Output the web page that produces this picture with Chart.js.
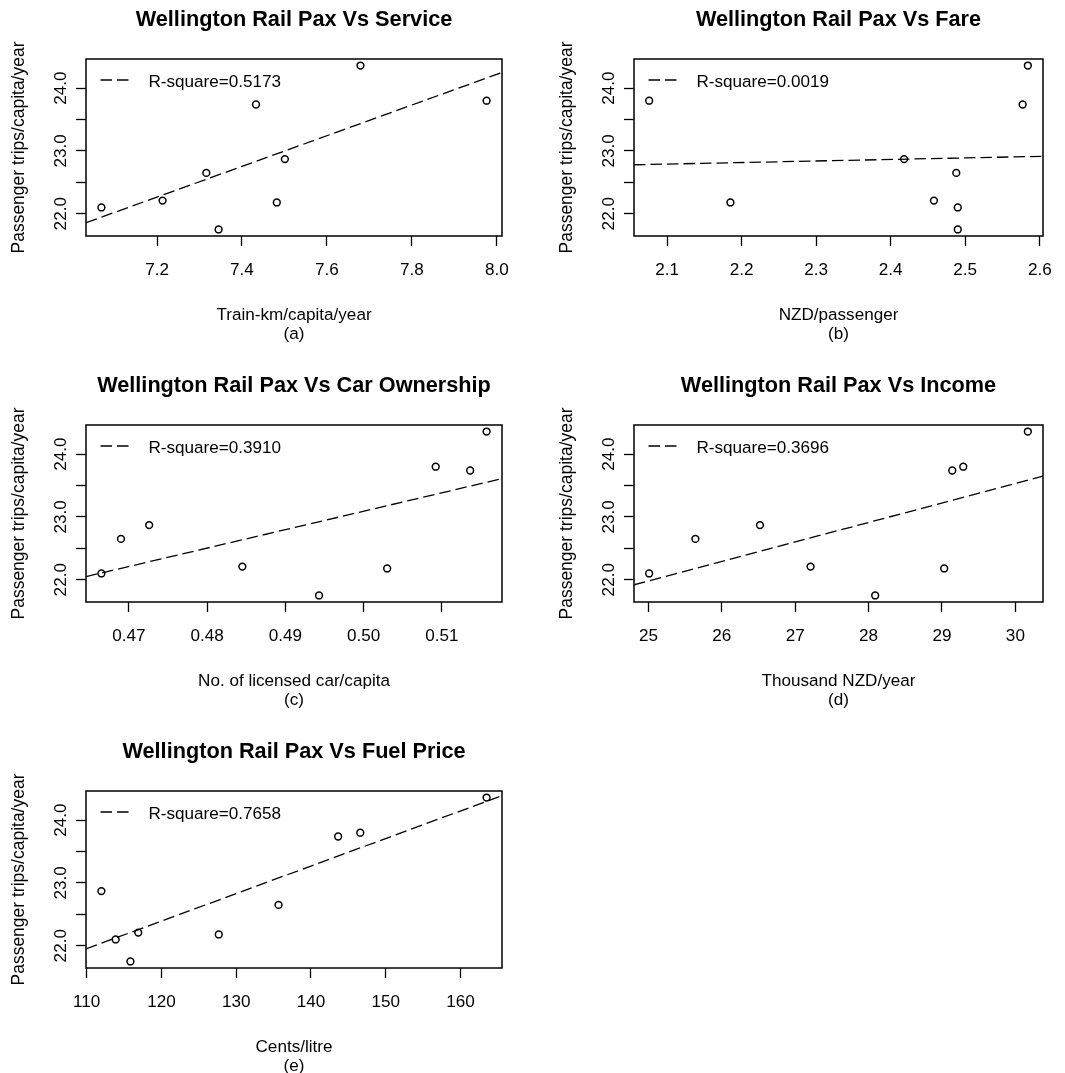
<!DOCTYPE html>
<html>
<head>
<meta charset="utf-8">
<title>Wellington Rail Pax</title>
<script src="https://cdn.jsdelivr.net/npm/chart.js@4.4.1/dist/chart.umd.min.js"></script>
<style>
  html, body { margin: 0; padding: 0; background: #fff; overflow: hidden; }
  #page { position: relative; width: 1065px; height: 1073px; background: #fff; overflow: hidden; }
  #page canvas { position: absolute; }
</style>
</head>
<body>
<div id="page"></div>
<script>
// Wellington rail patronage against five explanatory variables, one point per year.
const paxTrips      = [22.10, 22.21, 22.65, 21.75, 23.74, 22.18, 22.87, 24.36, 23.80];
const trainKm       = [7.069, 7.213, 7.316, 7.345, 7.433, 7.482, 7.501, 7.679, 7.976];
const fareNzd       = [2.490, 2.458, 2.488, 2.490, 2.577, 2.185, 2.418, 2.584, 2.076];
const carsPerCapita = [0.4665, 0.4845, 0.4690, 0.4943, 0.5136, 0.5030, 0.4726, 0.5157, 0.5092];
const incomeK       = [25.01, 27.21, 25.64, 28.09, 29.14, 29.03, 26.52, 30.17, 29.29];
const fuelCents     = [113.88, 116.90, 135.67, 115.85, 143.64, 127.67, 111.97, 163.50, 146.60];

// Fitted trend: value at the left and right edge of each panel
const fitStartY = [21.857, 22.780, 22.050, 21.920, 21.950];
const fitEndY   = [24.250, 22.915, 23.610, 23.650, 24.390];

const panelTitles = [
  'Wellington Rail Pax Vs Service',
  'Wellington Rail Pax Vs Fare',
  'Wellington Rail Pax Vs Car Ownership',
  'Wellington Rail Pax Vs Income',
  'Wellington Rail Pax Vs Fuel Price'
];
const xTitles = ['Train-km/capita/year', 'NZD/passenger', 'No. of licensed car/capita', 'Thousand NZD/year', 'Cents/litre'];
const panelTags = ['(a)', '(b)', '(c)', '(d)', '(e)'];
const yTitle = 'Passenger trips/capita/year';
const rSquareLabels = ['R-square=0.5173', 'R-square=0.0019', 'R-square=0.3910', 'R-square=0.3696', 'R-square=0.7658'];

const xTickValues = [
  [7.2, 7.4, 7.6, 7.8, 8.0],
  [2.1, 2.2, 2.3, 2.4, 2.5, 2.6],
  [0.47, 0.48, 0.49, 0.50, 0.51],
  [25, 26, 27, 28, 29, 30],
  [110, 120, 130, 140, 150, 160]
];
const xTickLabels = [
  ['7.2', '7.4', '7.6', '7.8', '8.0'],
  ['2.1', '2.2', '2.3', '2.4', '2.5', '2.6'],
  ['0.47', '0.48', '0.49', '0.50', '0.51'],
  ['25', '26', '27', '28', '29', '30'],
  ['110', '120', '130', '140', '150', '160']
];
const yTickValues = [22, 22.5, 23, 23.5, 24];
const yTickLabels = ['22.0', '', '23.0', '', '24.0'];

const xSeries = [trainKm, fareNzd, carsPerCapita, incomeK, fuelCents];

// ---- layout ----
const FONT = '"Liberation Sans", Arial, Helvetica, sans-serif';
const BASE = 17.1;
const marginL = 86, marginT = 60, marginR = 40, axisH = 110;
// plot box of each panel: left, top, width, height
const plotBoxes = [
  [86, 59, 416, 177],
  [634, 59, 409, 177],
  [86, 425, 416, 177],
  [634, 425, 409, 177],
  [86, 791, 416, 177]
];

// axis range padded by 4% on each side
function paddedRange(values) {
  const lo = Math.min(...values), hi = Math.max(...values);
  const p = (hi - lo) * 0.04;
  return [lo - p, hi + p];
}

// plot frame and the inline key for the dashed trend line
const frameAndKey = {
  id: 'frameAndKey',
  afterDatasetsDraw(chart, args, opts) {
    const { ctx, chartArea: a } = chart;
    ctx.save();
    ctx.strokeStyle = '#000';
    ctx.lineWidth = 1.5;
    ctx.setLineDash([]);
    ctx.strokeRect(a.left, a.top, a.right - a.left, a.bottom - a.top);
    ctx.lineWidth = 1.3;
    ctx.setLineDash([11.5, 5]);
    ctx.beginPath();
    ctx.moveTo(a.left + 14.5, a.top + 21);
    ctx.lineTo(a.left + 43, a.top + 21);
    ctx.stroke();
    ctx.setLineDash([]);
    ctx.fillStyle = '#000';
    ctx.font = BASE + 'px ' + FONT;
    ctx.textAlign = 'left';
    ctx.textBaseline = 'middle';
    ctx.fillText(opts.text, a.left + 62.5, a.top + 23);
    ctx.restore();
  }
};

const tickGrid = {
  display: true,
  drawOnChartArea: false,
  drawTicks: true,
  tickLength: 10,
  tickColor: '#000',
  tickWidth: 1.3
};

const yRange = paddedRange(paxTrips);
const page = document.getElementById('page');

xSeries.forEach((xs, i) => {
  const [bx, by, bw, bh] = plotBoxes[i];
  const xRange = paddedRange(xs);
  const canvas = document.createElement('canvas');
  const cw = marginL + bw + marginR;
  const ch = marginT + bh + axisH;
  canvas.width = cw;
  canvas.height = ch;
  canvas.style.width = cw + 'px';
  canvas.style.height = ch + 'px';
  canvas.style.left = (bx - marginL) + 'px';
  canvas.style.top = (by - marginT) + 'px';
  page.appendChild(canvas);

  new Chart(canvas, {
    type: 'scatter',
    data: {
      datasets: [
        {
          label: rSquareLabels[i],
          data: [{ x: xRange[0], y: fitStartY[i] }, { x: xRange[1], y: fitEndY[i] }],
          showLine: true,
          borderColor: '#000',
          borderWidth: 1.3,
          borderDash: [11.5, 5],
          pointRadius: 0,
          pointHoverRadius: 0,
          fill: false,
          tension: 0,
          order: 2
        },
        {
          label: 'Observed',
          data: xs.map((x, k) => ({ x: x, y: paxTrips[k] })),
          pointStyle: 'circle',
          pointRadius: 3.4,
          pointHoverRadius: 3.4,
          pointBorderWidth: 1.5,
          borderColor: '#000',
          backgroundColor: 'rgba(0,0,0,0)',
          clip: false,
          order: 1
        }
      ]
    },
    options: {
      responsive: false,
      animation: false,
      devicePixelRatio: 1,
      events: [],
      layout: { padding: { left: 0, top: 0, right: marginR, bottom: 0 } },
      plugins: {
        legend: { display: false },
        tooltip: { enabled: false },
        title: {
          display: true,
          text: panelTitles[i],
          fullSize: false,
          color: '#000',
          font: { family: FONT, size: 21.7, weight: 'bold', lineHeight: 1.2 },
          padding: { top: 8.2, bottom: 25.76 }
        },
        frameAndKey: { text: rSquareLabels[i] }
      },
      scales: {
        x: {
          type: 'linear',
          position: 'bottom',
          min: xRange[0],
          max: xRange[1],
          afterBuildTicks: s => { s.ticks = xTickValues[i].map(v => ({ value: v })); },
          afterFit: s => { s.height = axisH; },
          ticks: {
            autoSkip: false,
            minRotation: 0,
            maxRotation: 0,
            padding: 14.3,
            color: '#000',
            font: { family: FONT, size: BASE },
            callback: (v, idx) => xTickLabels[i][idx]
          },
          grid: tickGrid,
          border: { display: false },
          title: {
            display: true,
            text: [xTitles[i], panelTags[i]],
            color: '#000',
            font: { family: FONT, size: BASE, lineHeight: 19 / BASE },
            padding: { top: 0, bottom: 2.5 }
          }
        },
        y: {
          type: 'linear',
          position: 'left',
          min: yRange[0],
          max: yRange[1],
          afterBuildTicks: s => { s.ticks = yTickValues.map(v => ({ value: v })); },
          afterFit: s => { s.width = marginL; },
          ticks: {
            autoSkip: false,
            minRotation: 90,
            maxRotation: 90,
            crossAlign: 'center',
            padding: -1.6,
            color: '#000',
            font: { family: FONT, size: BASE },
            callback: (v, idx) => yTickLabels[idx]
          },
          grid: tickGrid,
          border: { display: false },
          title: {
            display: true,
            text: yTitle,
            color: '#000',
            font: { family: FONT, size: 17.5, lineHeight: 1.2 },
            padding: { top: 8.6, bottom: 0 }
          }
        }
      }
    },
    plugins: [frameAndKey]
  });
});
</script>
</body>
</html>
